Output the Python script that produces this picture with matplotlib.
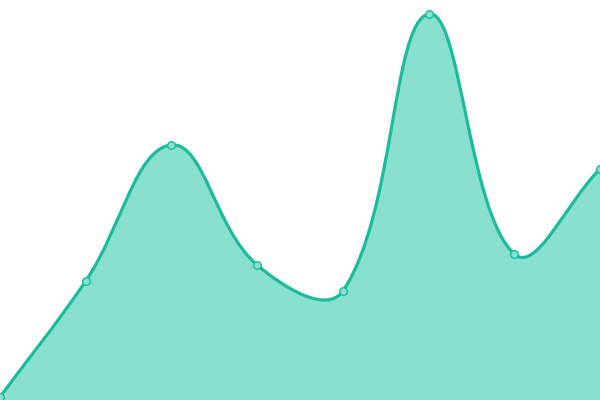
import numpy as np
import matplotlib
matplotlib.use('Agg')
import matplotlib.pyplot as plt
from matplotlib.path import Path
from matplotlib.patches import PathPatch

# values (bottom of chart = 0)
x_idx = [0, 1, 2, 3, 4, 5, 6, 7]
values = [3, 119, 255, 135, 109, 386, 146, 231]

LINE = '#1abc9c'
FILL = '#8ae0cf'
W, H = 600, 400
YMAX = 400
TENSION = 0.4


def spline_controls(pts, t=TENSION):
    """chart.js-style control points, computed in pixel space"""
    n = len(pts)
    ctrl = []
    for i in range(n):
        prev = pts[max(i - 1, 0)]
        cur = pts[i]
        nxt = pts[min(i + 1, n - 1)]
        d01 = np.hypot(*(cur - prev))
        d12 = np.hypot(*(nxt - cur))
        tot = d01 + d12
        s01 = d01 / tot if tot else 0
        s12 = d12 / tot if tot else 0
        c_prev = cur - t * s01 * (nxt - prev)
        c_next = cur + t * s12 * (nxt - prev)
        c_prev = np.clip(c_prev, [0, 0], [W, H])
        c_next = np.clip(c_next, [0, 0], [W, H])
        ctrl.append((c_prev, c_next))
    return ctrl


sx = W / (len(x_idx) - 1)
sy = H / YMAX
pts = np.array([[x * sx, v * sy] for x, v in zip(x_idx, values)])
ctrl = spline_controls(pts)

verts = [pts[0]]
codes = [Path.MOVETO]
for i in range(1, len(pts)):
    verts += [ctrl[i - 1][1], ctrl[i][0], pts[i]]
    codes += [Path.CURVE4] * 3
verts = [(vx / sx, vy / sy) for vx, vy in verts]

fill_verts = verts + [(x_idx[-1], 0), (x_idx[0], 0), verts[0]]
fill_codes = codes + [Path.LINETO, Path.LINETO, Path.CLOSEPOLY]

fig = plt.figure(figsize=(6, 4), dpi=100, facecolor='white')
ax = fig.add_axes([0, 0, 1, 1])
ax.set_xlim(0, 7)
ax.set_ylim(0, YMAX)
ax.axis('off')

ax.add_patch(PathPatch(Path(fill_verts, fill_codes), facecolor=FILL, edgecolor='none'))
ax.add_patch(PathPatch(Path(verts, codes), facecolor='none', edgecolor=LINE, lw=2.3,
                       capstyle='round', joinstyle='round'))
ax.plot(x_idx, values, 'o', ms=5.5, mfc=FILL, mec=LINE, mew=1, zorder=5)

fig.savefig('out.png', dpi=100, facecolor='white')
